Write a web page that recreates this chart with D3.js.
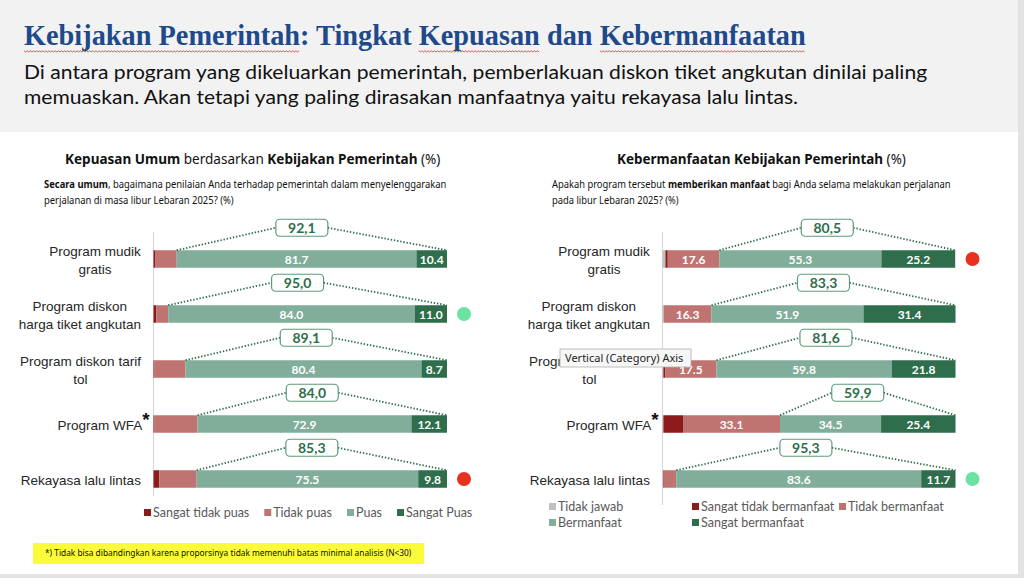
<!DOCTYPE html>
<html>

<head>
    <meta charset="UTF-8">
    <style>
        body { margin: 0; background: #fff; }
        svg { display: block; font-family: Lato, "Noto Sans", sans-serif; }
    </style>
</head>

<body>
    <svg></svg>
    <script src="https://d3js.org/d3.v7.min.js"></script>

    <script>

        // ---- data ----
        const categories = [
            ["Program mudik", "gratis"],
            ["Program diskon", "harga tiket angkutan"],
            ["Program diskon tarif", "tol"],
            ["Program WFA"],
            ["Rekayasa lalu lintas"]
        ];
        const asteriskRow = 3;

        // kepuasan (left)
        const sangatTidakPuas = [0.7, 1.0, 0.2, 0.2, 2.0];
        const tidakPuas = [7.2, 4.0, 10.7, 14.8, 12.7];
        const puas = [81.7, 84.0, 80.4, 72.9, 75.5];
        const sangatPuas = [10.4, 11.0, 8.7, 12.1, 9.8];
        const totalPuas = ["92,1", "95,0", "89,1", "84,0", "85,3"];
        const markLeft = [null, "best", null, null, "worst"];

        // kebermanfaatan (right)
        const tidakJawab = [1.0, 0.4, 0.3, 0.3, 0.3];
        const sangatTidakBermanfaat = [0.8, 0.0, 0.6, 6.7, 0.2];
        const tidakBermanfaat = [17.6, 16.3, 17.5, 33.1, 4.2];
        const bermanfaat = [55.3, 51.9, 59.8, 34.5, 83.6];
        const sangatBermanfaat = [25.2, 31.4, 21.8, 25.4, 11.7];
        const totalManfaat = ["80,5", "83,3", "81,6", "59,9", "95,3"];
        const markRight = ["worst", null, null, null, "best"];

        const W = 1024, H = 578;
        const svg = d3.select("svg").attr("width", W).attr("height", H);

        const C = {
            darkRed: "#8e1b1b", red: "#c07472", green: "#80ae9a", darkGreen: "#2f6e4c",
            grey: "#c0c0c0", best: "#6be3a0", worst: "#e8321f"
        };

        // background panels
        svg.append("rect").attr("width", W).attr("height", H).attr("fill", "#e3e3e3");
        svg.append("rect").attr("width", 1018).attr("height", 574).attr("fill", "#fff");
        svg.append("rect").attr("width", 1018).attr("height", 132).attr("fill", "#f2f2f2");

        // squeeze a text (or group) horizontally to a given width
        function fitWidth(sel, x, width) {
            const w = sel.node().getBBox().width;
            const s = width / w;
            sel.attr("transform", "translate(" + x + ",0) scale(" + s + ",1)");
            return s;
        }

        // ---- header ----
        const titleStr = "Kebijakan Pemerintah: Tingkat Kepuasan dan Kebermanfaatan";
        const tg = svg.append("g");
        const title = tg.append("text")
            .attr("x", 0).attr("y", 45)
            .style("font-family", "'Liberation Serif', serif")
            .style("font-weight", "bold")
            .style("font-size", "29px")
            .attr("fill", "#1f4a8a")
            .text(titleStr);
        // red spell-check squiggles
        ["Kebijakan Pemerintah", "Kepuasan", "Kebermanfaatan"].forEach(w => {
            const i = titleStr.indexOf(w);
            const x0 = title.node().getStartPositionOfChar(i).x;
            const x1 = title.node().getEndPositionOfChar(i + w.length - 1).x;
            const pts = d3.range(x0, x1, 1.6).map((px, k) => [px, 51 + (k % 2 ? 1 : -0.2)]);
            tg.append("path").attr("d", d3.line()(pts))
                .attr("fill", "none").attr("stroke", "#e03030").attr("stroke-width", 0.8);
        });
        fitWidth(tg, 24, 782);

        const sub1 = svg.append("text").attr("y", 79).style("font-size", "20px").attr("fill", "#111")
            .text("Di antara program yang dikeluarkan pemerintah, pemberlakuan diskon tiket angkutan dinilai paling");
        const sc = fitWidth(sub1, 24, 904);
        svg.append("text").attr("y", 104).style("font-size", "20px").attr("fill", "#111")
            .attr("transform", "translate(24,0) scale(" + sc + ",1)")
            .text("memuaskan. Akan tetapi yang paling dirasakan manfaatnya yaitu rekayasa lalu lintas.");

        // ---- chart titles & questions ----
        function richText(y, parts, size, x, width, scale) {
            const t = svg.append("text").attr("y", y)
                .style("font-family", "'Noto Sans', sans-serif").style("font-size", size + "px").attr("fill", "#111");
            parts.forEach(p => t.append("tspan").style("font-weight", p[1] ? "bold" : "normal").text(p[0]));
            if (width) return fitWidth(t, x, width);
            t.attr("transform", "translate(" + x + ",0) scale(" + scale + ",1)");
            return scale;
        }

        richText(164, [["Kepuasan Umum", 1], [" berdasarkan ", 0], ["Kebijakan Pemerintah", 1], [" (%)", 0]], 14.5, 65, 376);
        let qs = richText(188, [["Secara umum", 1], [", bagaimana penilaian Anda terhadap pemerintah dalam menyelenggarakan", 0]], 10, 44, 403);
        richText(204, [["perjalanan di masa libur Lebaran 2025? (%)", 0]], 10, 44, 0, qs);

        richText(164, [["Kebermanfaatan Kebijakan Pemerintah", 1], [" (%)", 0]], 14.5, 617, 289);
        qs = richText(188, [["Apakah program tersebut ", 0], ["memberikan manfaat", 1], [" bagi Anda selama melakukan perjalanan", 0]], 10, 552, 399);
        richText(204, [["pada libur Lebaran 2025? (%)", 0]], 10, 552, 0, qs);

        // ---- charts ----
        function drawChart(o) {
            const g = svg.append("g");
            const y = d3.scalePoint().domain(d3.range(categories.length)).range([231.5, 506.5]).padding(0.5);
            const x = d3.scaleLinear().domain([0, 100]).range([o.x0, o.x1]);
            const barH = 17.5;

            const rows = d3.range(categories.length).map(i => {
                const r = {};
                o.keys.forEach((k, j) => r[k] = o.series[j][i]);
                return r;
            });
            const stacked = d3.stack().keys(o.keys)(rows);

            // category axis
            const axis = g.append("g")
                .attr("transform", "translate(" + o.x0 + ",0)")
                .call(d3.axisLeft(y).tickSize(0).tickSizeOuter(0).tickFormat(""));
            axis.select(".domain").attr("stroke", "#d9d9d9").attr("stroke-width", 1.2)
                .attr("d", "M0," + o.axisTop + "V" + o.axisBottom);
            axis.selectAll(".tick").each(function (d) {
                const lines = categories[d];
                const t = d3.select(this).append("text")
                    .attr("text-anchor", "middle")
                    .attr("fill", "#262626")
                    .style("font-size", "13.5px");
                lines.forEach((l, k) => {
                    const ts = t.append("tspan").attr("x", 0)
                        .attr("y", (k - (lines.length - 1) / 2) * 18 + 5).text(l);
                    if (d === asteriskRow) {
                        t.append("tspan").attr("dy", -4)
                            .style("font-size", "19px").style("font-weight", "bold").attr("fill", "#111")
                            .text("*");
                    }
                });
                const w = t.node().getBBox().width;
                const gap = d === asteriskRow ? 3.5 : 12.5;
                t.attr("transform", "translate(" + (-gap - w / 2) + ",0)");
            });

            // bars
            stacked.forEach((layer, j) => {
                g.append("g").attr("fill", o.colors[j])
                    .selectAll("rect").data(layer).join("rect")
                    .attr("x", d => x(d[0]))
                    .attr("width", d => x(d[1]) - x(d[0]))
                    .attr("y", (d, i) => y(i) - barH / 2)
                    .attr("height", barH);
                if (o.labeled.includes(o.keys[j])) {
                    g.append("g").selectAll("text")
                        .data(layer.map((d, i) => ({ d, i })).filter(e => e.d[1] - e.d[0] >= 10 || o.keys[j] !== o.keys[o.minKey]))
                        .join("text")
                        .attr("x", e => (x(e.d[0]) + x(e.d[1])) / 2)
                        .attr("y", e => y(e.i) + 4.5)
                        .attr("text-anchor", "middle")
                        .attr("fill", "#fff")
                        .style("font-size", "12px").style("font-weight", "bold")
                        .text(e => d3.format(".1f")(e.d[1] - e.d[0]));
                }
            });

            // total boxes with dotted connectors
            const posStart = stacked[o.posIndex];
            const end = stacked[stacked.length - 1];
            categories.forEach((c, i) => {
                const xs = x(posStart[i][0]), xe = x(end[i][1]);
                const bw = 52, bh = 17;
                const cx = (xs + xe) / 2 - 10;
                const top = y(i) - barH / 2;
                const cy = top - 22.5;
                g.append("path")
                    .attr("d", "M" + xs + "," + top + "L" + (cx - bw / 2) + "," + cy +
                        "M" + (cx + bw / 2) + "," + cy + "L" + xe + "," + top)
                    .attr("fill", "none").attr("stroke", C.darkGreen)
                    .attr("stroke-width", 1.8).attr("stroke-dasharray", "1.4,1.8");
                g.append("rect").attr("x", cx - bw / 2).attr("y", cy - bh / 2)
                    .attr("width", bw).attr("height", bh).attr("rx", 4)
                    .attr("fill", "#fff").attr("stroke", "#5c9c7a").attr("stroke-width", 1.2);
                g.append("text").attr("x", cx).attr("y", cy + 5)
                    .attr("text-anchor", "middle").attr("fill", C.darkGreen)
                    .style("font-size", "14px").style("font-weight", "bold")
                    .text(o.totals[i]);
                if (o.marks[i]) {
                    g.append("circle").attr("cx", o.x1 + 17).attr("cy", y(i)).attr("r", 7)
                        .attr("fill", C[o.marks[i]]);
                }
            });
        }

        drawChart({
            x0: 153.5, x1: 447, axisTop: 232, axisBottom: 496,
            keys: ["stp", "tp", "p", "sp"],
            series: [sangatTidakPuas, tidakPuas, puas, sangatPuas],
            colors: [C.darkRed, C.red, C.green, C.darkGreen],
            labeled: ["p", "sp"], minKey: 1, posIndex: 2,
            totals: totalPuas, marks: markLeft
        });

        drawChart({
            x0: 662.5, x1: 955.5, axisTop: 232, axisBottom: 505,
            keys: ["tj", "stb", "tb", "b", "sb"],
            series: [tidakJawab, sangatTidakBermanfaat, tidakBermanfaat, bermanfaat, sangatBermanfaat],
            colors: [C.grey, C.darkRed, C.red, C.green, C.darkGreen],
            labeled: ["tb", "b", "sb"], minKey: 2, posIndex: 3,
            totals: totalManfaat, marks: markRight
        });

        // ---- legends ----
        function legendItem(x, y, color, label) {
            svg.append("rect").attr("x", x).attr("y", y - 4).attr("width", 7).attr("height", 7).attr("fill", color);
            return svg.append("text").attr("x", x + 9).attr("y", y + 4)
                .attr("fill", "#595959").style("font-size", "12.5px").text(label);
        }
        let lx = 144;
        [["Sangat tidak puas", C.darkRed], ["Tidak puas", C.red], ["Puas", C.green], ["Sangat Puas", C.darkGreen]]
            .forEach(([l, c]) => {
                const t = legendItem(lx, 513, c, l);
                lx += 9 + t.node().getComputedTextLength() + 15;
            });

        legendItem(549, 507, C.grey, "Tidak jawab");
        legendItem(549, 523, C.green, "Bermanfaat");
        legendItem(692, 507, C.darkRed, "Sangat tidak bermanfaat");
        legendItem(692, 523, C.darkGreen, "Sangat bermanfaat");
        legendItem(839, 507, C.red, "Tidak bermanfaat");

        // ---- hover tooltip visible in the source screenshot ----
        svg.append("rect").attr("x", 560).attr("y", 349).attr("width", 131).attr("height", 18)
            .attr("fill", "#f7f7f7").attr("stroke", "#b0b0b0").attr("stroke-width", 0.8);
        svg.append("text").attr("x", 565).attr("y", 362).attr("fill", "#222")
            .style("font-family", "'Noto Sans', sans-serif").style("font-size", "11px")
            .text("Vertical (Category) Axis");

        // ---- footnote ----
        svg.append("rect").attr("x", 33).attr("y", 543).attr("width", 391).attr("height", 21).attr("fill", "#fbfb3a");
        const fn = svg.append("text").attr("y", 556.5).attr("fill", "#111")
            .style("font-family", "'Noto Sans', sans-serif").style("font-size", "9px")
            .text("*) Tidak bisa dibandingkan karena proporsinya tidak memenuhi batas minimal analisis (N<30)");
        fitWidth(fn, 45, 367);

    </script>

</body>

</html>
